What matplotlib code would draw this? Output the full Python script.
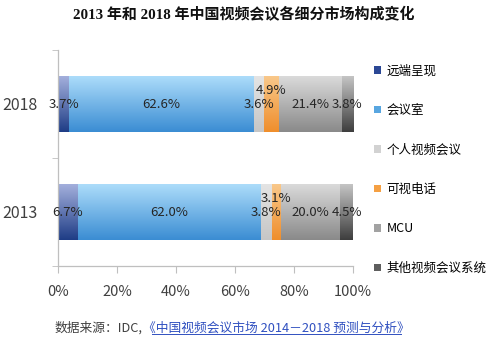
import matplotlib
matplotlib.use("Agg")
import matplotlib.pyplot as plt
import numpy as np
from matplotlib.patches import Patch
from matplotlib.colors import to_rgb

plt.rcParams['font.family'] = ['Noto Sans CJK SC', 'DejaVu Sans']

title = "2013 年和 2018 年中国视频会议各细分市场构成变化"
years = ["2013", "2018"]
segments = ["远端呈现", "会议室", "个人视频会议", "可视电话", "MCU", "其他视频会议系统"]
values_2013 = [6.7, 62.0, 3.8, 3.1, 20.0, 4.5]
values_2018 = [3.7, 62.6, 3.6, 4.9, 21.4, 3.8]
xticks = [0, 20, 40, 60, 80, 100]
xtick_labels = ["0%", "20%", "40%", "60%", "80%", "100%"]
source_prefix = "数据来源：IDC,"
source_link = "《中国视频会议市场 2014－2018 预测与分析》"

# gradient colours (top, bottom) and legend colours
grad = [("#a3afdc", "#1f3d86"),
        ("#acdcfa", "#3b8dd3"),
        ("#e4e4e4", "#c6c6c6"),
        ("#f9c88a", "#ef8e2c"),
        ("#dadada", "#8a8a8a"),
        ("#c4c4c4", "#3e3e3e")]
legend_cols = ["#2b4895", "#58a6e0", "#d2d2d2", "#f5a043", "#a2a2a2", "#5e5e5e"]

fig = plt.figure(figsize=(5.0, 3.43), dpi=100)
ax = fig.add_axes([0.116, 1 - 266 / 343, (353 - 58) / 500, (266 - 50) / 343])

data = {"2013": values_2013, "2018": values_2018}
ypos = np.arange(len(years))
bar_h = 0.51

for yi, yr in zip(ypos, years):
    vals = data[yr]
    left = 0.0
    for si, v in enumerate(vals):
        cont = ax.barh(yi, v, left=left, height=bar_h, color=legend_cols[si],
                       edgecolor="none", zorder=1)
        p = cont.patches[0]
        x0, y0, w, h = p.get_x(), p.get_y(), p.get_width(), p.get_height()
        top, bot = np.array(to_rgb(grad[si][0])), np.array(to_rgb(grad[si][1]))
        t = np.linspace(0, 1, 64)[:, None]
        arr = (bot * (1 - t) + top * t)[:, None, :]
        ax.imshow(arr, extent=[x0, x0 + w, y0, y0 + h], origin="lower",
                  aspect="auto", zorder=2, interpolation="bilinear")
        cx = left + v / 2
        dy = 10 if segments[si] == "可视电话" else 0
        ax.annotate(f"{v:.1f}%", (cx, yi), xytext=(0, dy), textcoords="offset points",
                    ha="center", va="center", fontsize=9.5, color="#262626", zorder=3)
        left += v

ax.set_xlim(0, 100)
ax.set_ylim(-0.5, 1.5)
ax.set_xticks(xticks)
ax.set_xticklabels(xtick_labels, fontsize=10.5, color="#404040")
ax.set_yticks(ypos)
ax.set_yticklabels(years, fontsize=11.5, color="#404040", family=["Noto Sans CJK SC"])
ax.set_yticks([-0.5, 0.5, 1.5], minor=True)
ax.tick_params(axis="y", which="major", length=0, pad=15)
ax.tick_params(axis="y", which="minor", length=4, color="#bfbfbf", direction="out")
ax.tick_params(axis="x", length=5, color="#bfbfbf", direction="out", pad=9)
for s in ["top", "right"]:
    ax.spines[s].set_visible(False)
for s in ["left", "bottom"]:
    ax.spines[s].set_color("#bfbfbf")
    ax.spines[s].set_linewidth(0.9)

handles = [Patch(facecolor=c, edgecolor="none") for c in legend_cols]
fig.legend(handles, segments, loc="upper left", bbox_to_anchor=(0.748, 0.812),
           frameon=False, fontsize=9, handlelength=0.55, handleheight=0.55,
           handletextpad=0.45, labelspacing=2.12, borderaxespad=0, borderpad=0)

fig.text(0.488, 0.958, title, ha="center", va="center", fontsize=10.8, fontweight="bold",
         family=["Liberation Serif", "Noto Sans CJK SC"], color="#111111")

t1 = fig.text(55 / 500, 1 - 328 / 343, source_prefix, ha="left", va="center",
              fontsize=9.2, color="#404040")
fig.canvas.draw()
r = fig.canvas.get_renderer()
bb = t1.get_window_extent(r)
t2 = fig.text(bb.x1 / 500, 1 - 328 / 343, source_link, ha="left", va="center",
              fontsize=9.2, color="#3050c0")
fig.canvas.draw()
bb2 = t2.get_window_extent(r)
fig.add_artist(plt.Line2D([(bb2.x0 + 9) / 500, (bb2.x1 - 9) / 500],
                          [(bb2.y0 + 1) / 343, (bb2.y0 + 1) / 343],
                          transform=fig.transFigure, color="#3050c0", lw=0.7))

fig.savefig("out.png", dpi=100)
